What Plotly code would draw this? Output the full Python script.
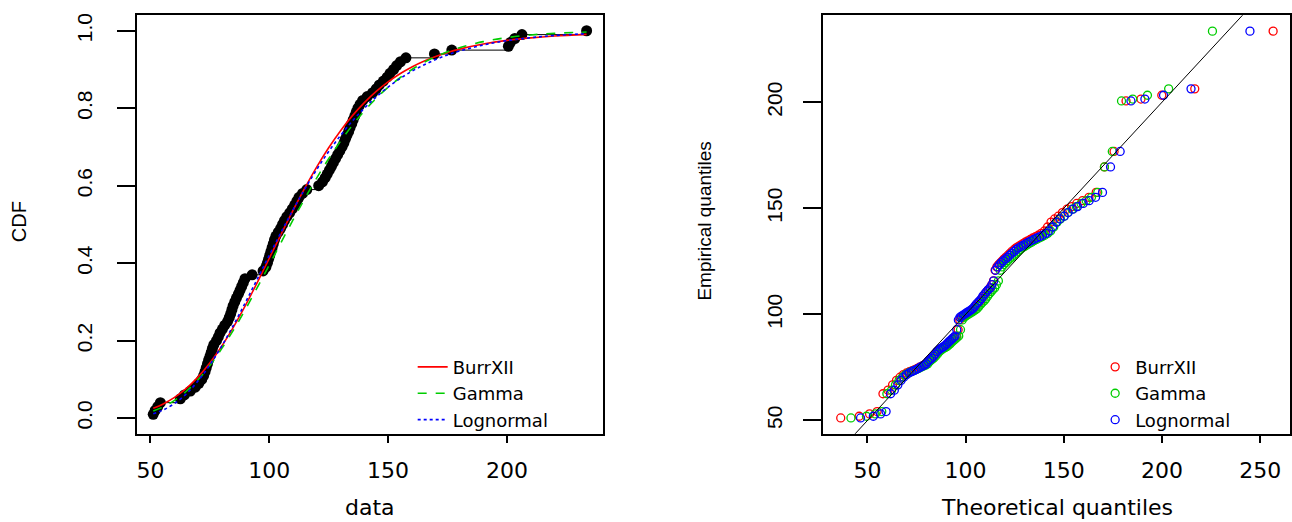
import plotly.graph_objects as go
import plotly.express as px

# ---------------- data ----------------
emp_data = [
    51.2, 52.0, 53.1, 54.2, 62.6, 64.3, 66.8, 68.9, 70.4, 71.6,
    72.4, 73.0, 73.5, 74.0, 74.5, 75.1, 75.6, 76.1, 76.7, 77.8,
    78.6, 79.3, 80.3, 81.3, 82.5, 83.2, 83.8, 84.3, 84.8, 85.5,
    86.2, 87.0, 87.7, 88.4, 89.1, 89.8, 92.8, 97.4, 98.6, 99.2,
    99.7, 100.2, 100.7, 101.2, 101.7, 102.2, 102.8, 103.8, 104.8, 105.6,
    106.4, 107.4, 108.6, 109.7, 110.7, 111.6, 112.5, 114.0, 115.8, 120.8,
    122.4, 123.5, 124.4, 125.3, 126.2, 127.0, 127.9, 128.8, 129.7, 130.6,
    131.4, 132.0, 132.7, 133.4, 134.0, 134.7, 135.3, 136.0, 136.6, 137.3,
    138.2, 139.3, 141.2, 143.5, 145.0, 146.3, 148.0, 149.6, 150.8, 152.3,
    153.6, 155.2, 157.5, 169.5, 176.8, 200.6, 201.5, 203.3, 206.3, 233.5,
]

burr_q = [
    36.4, 45.8, 51.1, 54.9, 57.9, 60.5, 62.8, 64.8, 66.6, 68.3,
    69.9, 71.4, 72.8, 74.1, 75.3, 76.5, 77.7, 78.8, 79.9, 81.0,
    82.0, 83.0, 84.0, 84.9, 85.9, 86.8, 87.7, 88.6, 89.5, 90.3,
    91.2, 92.0, 92.9, 93.7, 94.5, 95.4, 96.2, 97.0, 97.8, 98.6,
    99.4, 100.2, 101.0, 101.8, 102.6, 103.4, 104.2, 105.0, 105.8, 106.6,
    107.4, 108.2, 109.1, 109.9, 110.7, 111.6, 112.4, 113.3, 114.2, 115.0,
    115.9, 116.8, 117.8, 118.7, 119.6, 120.6, 121.6, 122.6, 123.6, 124.7,
    125.7, 126.8, 128.0, 129.2, 130.3, 131.6, 132.9, 134.2, 135.6, 137.0,
    138.5, 140.1, 141.7, 143.5, 145.3, 147.2, 149.3, 151.6, 154.0, 156.6,
    159.5, 162.8, 166.5, 170.7, 175.6, 181.7, 189.3, 199.9, 216.7, 256.6,
]

gamma_q = [
    41.6, 49.5, 54.0, 57.3, 59.9, 62.3, 64.3, 66.1, 67.8, 69.4,
    70.9, 72.3, 73.6, 74.9, 76.1, 77.3, 78.4, 79.6, 80.7, 81.7,
    82.7, 83.7, 84.7, 85.7, 86.7, 87.6, 88.5, 89.5, 90.4, 91.3,
    92.2, 93.0, 93.9, 94.8, 95.6, 96.5, 97.4, 98.3, 99.1, 100.0,
    100.8, 101.7, 102.5, 103.4, 104.3, 105.1, 105.9, 106.8, 107.7, 108.5,
    109.5, 110.3, 111.2, 112.1, 113.0, 113.8, 114.8, 115.7, 116.7, 117.6,
    118.5, 119.5, 120.5, 121.5, 122.5, 123.5, 124.5, 125.6, 126.7, 127.8,
    128.9, 130.0, 131.2, 132.4, 133.6, 134.8, 136.1, 137.5, 138.9, 140.3,
    141.8, 143.3, 144.9, 146.6, 148.3, 150.2, 152.1, 154.2, 156.4, 158.8,
    161.4, 164.1, 167.3, 170.7, 174.7, 179.4, 185.1, 192.6, 203.4, 225.7,
]

lnorm_q = [
    46.5, 53.0, 56.7, 59.5, 61.8, 63.7, 65.5, 67.1, 68.5, 69.9,
    71.2, 72.5, 73.6, 74.8, 75.8, 76.9, 77.9, 78.9, 79.9, 80.8,
    81.8, 82.7, 83.6, 84.5, 85.4, 86.3, 87.1, 88.0, 88.8, 89.7,
    90.5, 91.3, 92.2, 93.0, 93.8, 94.6, 95.5, 96.3, 97.1, 97.9,
    98.8, 99.6, 100.4, 101.2, 102.1, 102.9, 103.7, 104.6, 105.4, 106.3,
    107.1, 108.0, 108.8, 109.8, 110.6, 111.5, 112.5, 113.4, 114.3, 115.2,
    116.3, 117.3, 118.2, 119.2, 120.4, 121.4, 122.4, 123.5, 124.7, 125.8,
    126.9, 128.2, 129.4, 130.7, 131.9, 133.3, 134.7, 136.2, 137.7, 139.2,
    140.9, 142.5, 144.3, 146.2, 148.0, 150.2, 152.2, 154.7, 157.0, 159.9,
    162.9, 166.2, 169.7, 173.8, 178.7, 184.2, 191.3, 200.8, 214.8, 244.8,
]

cdf_x = [51.2, 55, 60, 65, 70, 75, 80, 85, 90, 95, 100, 105, 110, 115, 120,
         125, 130, 135, 140, 145, 150, 155, 160, 165, 170, 175, 180, 190,
         200, 210, 220, 233.5]
burr_cdf = [0.0253, 0.0354, 0.0529, 0.0762, 0.1058, 0.1423, 0.1857, 0.2356,
            0.2910, 0.3506, 0.4126, 0.4750, 0.5362, 0.5945, 0.6488, 0.6980,
            0.7421, 0.7809, 0.8146, 0.8435, 0.8681, 0.8889, 0.9065, 0.9212,
            0.9335, 0.9439, 0.9525, 0.9657, 0.9751, 0.9817, 0.9864, 0.9907]
gamma_cdf = [0.0184, 0.0279, 0.0452, 0.0688, 0.0990, 0.1357, 0.1793, 0.2279,
             0.2810, 0.3376, 0.3951, 0.4538, 0.5116, 0.5673, 0.6202, 0.6695,
             0.7149, 0.7561, 0.7930, 0.8255, 0.8541, 0.8787, 0.9000, 0.9179,
             0.9330, 0.9457, 0.9562, 0.9719, 0.9823, 0.9891, 0.9933, 0.9967]
lnorm_cdf = [0.0114, 0.0200, 0.0372, 0.0622, 0.0956, 0.1373, 0.1860, 0.2404,
             0.2989, 0.3595, 0.4203, 0.4801, 0.5376, 0.5918, 0.6421, 0.6882,
             0.7298, 0.7671, 0.8001, 0.8291, 0.8545, 0.8765, 0.8954, 0.9117,
             0.9256, 0.9375, 0.9475, 0.9632, 0.9743, 0.9821, 0.9876, 0.9924]

identity_line = [20, 280]

dist_names = ["BurrXII", "Gamma", "Lognormal"]
left_xticks = [50, 100, 150, 200]
left_yticks = [0.0, 0.2, 0.4, 0.6, 0.8, 1.0]
right_xticks = [50, 100, 150, 200, 250]
right_yticks = [50, 100, 150, 200]

# ---------------- styling ----------------
W, H = 1292, 522
COLORS = ["#FF0000", "#00CD00", "#0000FF"]
DASHES = ["solid", "dash", "dot"]
HFONT = "DejaVu Sans"
VFONT = "Liberation Sans"


def fx(p):
    return p / W


def fy(p):
    return 1 - p / H


fig = go.Figure()

# empirical CDF (computed by plotly express)
ecdf_fig = px.ecdf(x=emp_data, markers=True)
for tr in ecdf_fig.data:
    tr.update(xaxis="x", yaxis="y", showlegend=False,
              line=dict(color="black", width=1),
              marker=dict(color="black", size=11))
    fig.add_trace(tr)

# fitted CDF curves
for name, F, c, d in zip(dist_names, [burr_cdf, gamma_cdf, lnorm_cdf], COLORS, DASHES):
    fig.add_trace(go.Scatter(
        x=cdf_x, y=F, mode="lines", name=name, legend="legend",
        line=dict(color=c, width=1.6, dash=d, shape="spline"),
        xaxis="x", yaxis="y"))

# Q-Q points
for name, q, c in zip(dist_names, [burr_q, gamma_q, lnorm_q], COLORS):
    fig.add_trace(go.Scatter(
        x=q, y=emp_data, mode="markers", name=name, legend="legend2",
        marker=dict(symbol="circle-open", size=8, color=c, line=dict(width=1.3, color=c)),
        xaxis="x2", yaxis="y2"))

fig.add_trace(go.Scatter(
    x=identity_line, y=identity_line, mode="lines", showlegend=False,
    line=dict(color="black", width=1), xaxis="x2", yaxis="y2"))

common = dict(showline=True, mirror=True, linecolor="black", linewidth=1.6,
              ticks="outside", tickcolor="black", tickwidth=1.6,
              showgrid=False, zeroline=False)
xcommon = dict(common, ticklen=8, tickfont=dict(family=HFONT, size=22, color="black"),
               ticklabelstandoff=8)
ycommon = dict(common, ticklen=18, tickangle=-90,
               tickfont=dict(family=VFONT, size=21, color="black"))

ydom = [fy(433.3), fy(13.3)]

fig.update_layout(
    width=W, height=H, autosize=False,
    margin=dict(l=0, r=0, t=0, b=0),
    paper_bgcolor="white", plot_bgcolor="white",
    showlegend=True,
    xaxis=dict(xcommon, domain=[fx(136.7), fx(603)], range=[44.2, 240.2],
               tickvals=left_xticks, anchor="y"),
    yaxis=dict(ycommon, domain=ydom, range=[-0.04, 1.04], tickvals=left_yticks,
               tickformat=".1f", anchor="x", ticklabelstandoff=16),
    xaxis2=dict(xcommon, domain=[fx(823.5), fx(1291)], range=[27.3, 265.2],
                tickvals=right_xticks, anchor="y2"),
    yaxis2=dict(ycommon, domain=ydom, range=[43.8, 241.0], tickvals=right_yticks,
                anchor="x2", ticklabelstandoff=13),
    legend=dict(x=fx(413), y=fy(348), xanchor="left", yanchor="top",
                bgcolor="rgba(0,0,0,0)", font=dict(family=HFONT, size=18, color="black"),
                tracegroupgap=0),
    legend2=dict(x=fx(1096), y=fy(348), xanchor="left", yanchor="top",
                 bgcolor="rgba(0,0,0,0)", font=dict(family=HFONT, size=18, color="black"),
                 tracegroupgap=0),
    annotations=[
        dict(text="data", x=fx(370), y=fy(507), xref="paper", yref="paper",
             xanchor="center", yanchor="middle",
             showarrow=False, font=dict(family=HFONT, size=22, color="black")),
        dict(text="Theoretical quantiles", x=fx(1058), y=fy(507), xref="paper", yref="paper",
             xanchor="center", yanchor="middle",
             showarrow=False, font=dict(family=HFONT, size=22, color="black")),
        dict(text="CDF", x=fx(19), y=fy(220), xref="paper", yref="paper", textangle=-90,
             xanchor="center", yanchor="middle",
             showarrow=False, font=dict(family=VFONT, size=20, color="black")),
        dict(text="Empirical quantiles", x=fx(705), y=fy(220), xref="paper", yref="paper",
             xanchor="center", yanchor="middle",
             textangle=-90, showarrow=False, font=dict(family=VFONT, size=19, color="black")),
    ],
)

fig.write_html("out.html", config={"displayModeBar": False},
               post_script="document.body.style.margin='0';document.body.style.overflow='hidden';")
